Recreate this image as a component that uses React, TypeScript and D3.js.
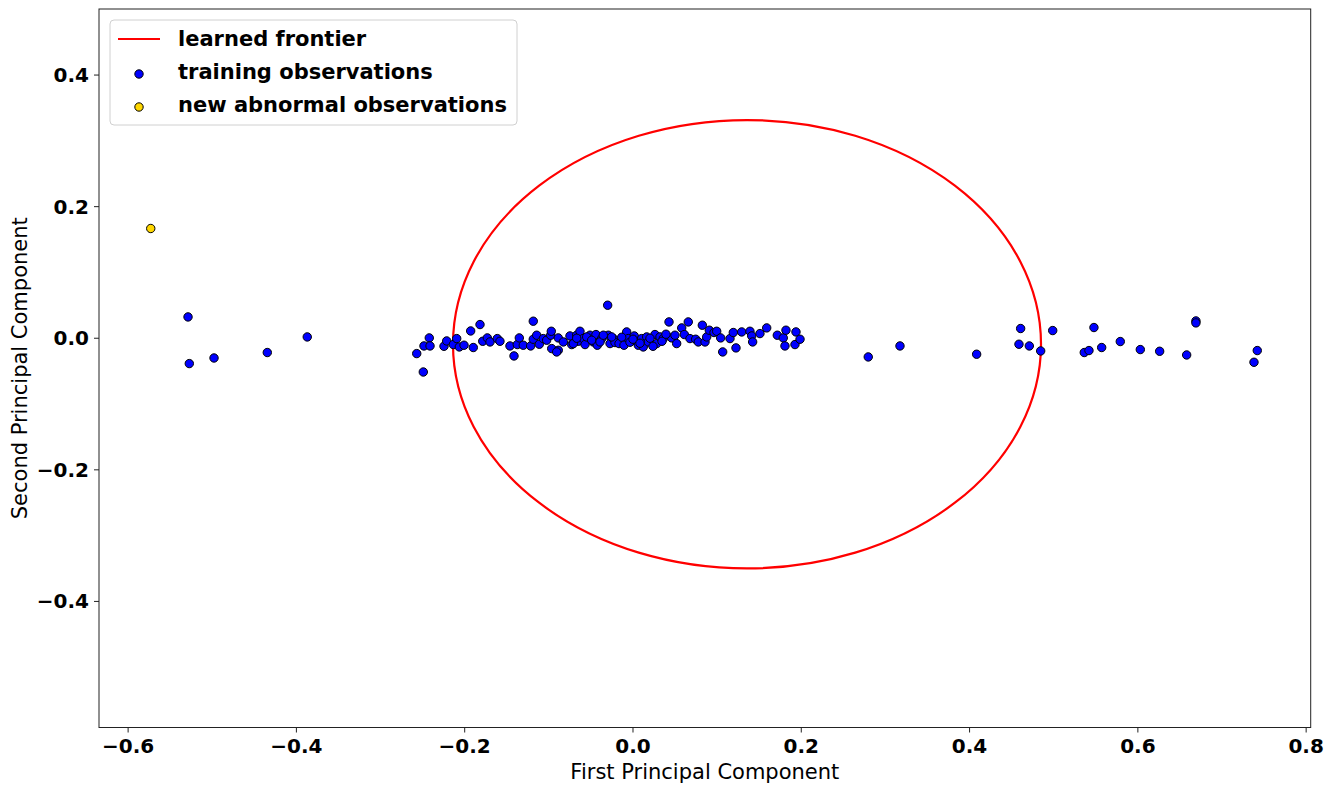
import React from "react";
import * as d3 from "d3";

// ---- data ----
const trainX: number[] = [
  // left outliers
  -0.5288, -0.5273, -0.4979, -0.4346, -0.3871,
  // cluster
  -0.2570, -0.2492, -0.2484, -0.2421, -0.2412, -0.2246, -0.2214, -0.2135, -0.2095, -0.2064,
  -0.2008, -0.1929, -0.1898, -0.1818, -0.1786, -0.1731, -0.1699, -0.1613, -0.1581, -0.1462,
  -0.1414, -0.1375, -0.1351, -0.1304, -0.1216, -0.1185, -0.1185, -0.1144, -0.1113, -0.1066,
  -0.1026, -0.0978, -0.0971, -0.0966, -0.0888, -0.0888, -0.0907, -0.0828, -0.0749, -0.0728,
  -0.0669, -0.0650, -0.0630, -0.0591, -0.0570, -0.0511, -0.0472, -0.0440, -0.0424, -0.0372,
  -0.0301, -0.0294, -0.0273, -0.0234, -0.0214, -0.0166, -0.0075, -0.0056, 0.0015, 0.0044,
  0.0063, 0.0103, 0.0122, 0.0163, 0.0182, 0.0261, 0.0282, 0.0321, 0.0360, 0.0428,
  0.0460, 0.0499, 0.0519, 0.0579, 0.0610, 0.0657, 0.0677, 0.0745, 0.0776, 0.0824,
  0.0856, 0.0876, 0.0907, 0.0963, 0.0995, 0.1042, 0.1066, 0.1153, 0.1192, 0.1224,
  0.1292, 0.1390, 0.1411, 0.1422, 0.1509, 0.1589, 0.1715, 0.1786, 0.1806, 0.1818,
  0.1925, 0.1937, 0.1985,
  -0.0709, -0.0669, -0.0550, -0.0491, -0.0392, -0.0353, -0.0253, -0.0134, -0.0107, -0.0036,
  0.0000, 0.0083, 0.0202, 0.0238, 0.0345, 0.0392,
  // right outliers
  0.2796, 0.3173, 0.4084, 0.4607, 0.4587, 0.4710, 0.4845, 0.4988, 0.5363, 0.5419,
  0.5478, 0.5570, 0.5791, 0.6029, 0.6259, 0.6580, 0.6690, 0.6690, 0.7419, 0.7380,
];
const trainY: number[] = [
  0.0324, -0.0385, -0.0300, -0.0217, 0.0020,
  -0.0233, -0.0513, -0.0117, 0.0005, -0.0117, -0.0122, -0.0041, -0.0096, -0.0005, -0.0132,
  -0.0106, 0.0111, -0.0141, 0.0208, -0.0046, 0.0005, -0.0056, -0.0005, -0.0046, -0.0117,
  -0.0269, -0.0096, 0.0005, -0.0106, -0.0117, 0.0259, -0.0015, 0.0046, -0.0091, -0.0005,
  -0.0030, 0.0046, 0.0106, -0.0157, 0.0005, -0.0183, -0.0208, -0.0056, 0.0035, -0.0096,
  0.0046, -0.0046, 0.0106, -0.0005, -0.0096, 0.0046, -0.0056, 0.0056, -0.0106, -0.0005,
  0.0502, 0.0046, -0.0081, -0.0005, -0.0065, -0.0081, 0.0096, -0.0005, 0.0035, -0.0056,
  -0.0106, -0.0005, -0.0132, 0.0020, -0.0056, 0.0056, -0.0081, 0.0020, -0.0005, 0.0248,
  0.0005, 0.0046, -0.0081, 0.0157, 0.0056, 0.0248, -0.0005, -0.0015, -0.0056, 0.0198,
  -0.0056, 0.0020, 0.0122, 0.0087, 0.0106, 0.0005, -0.0208, -0.0005, 0.0087, -0.0147,
  0.0096, 0.0106, 0.0035, -0.0056, 0.0071, 0.0157, 0.0046, 0.0005, -0.0117, 0.0122,
  -0.0096, 0.0096, -0.0015,
  -0.0081, 0.0000, 0.0020, -0.0030, -0.0056, 0.0046, 0.0020, 0.0015, -0.0106, -0.0061,
  -0.0015, -0.0076, 0.0000, -0.0122, -0.0046, 0.0061,
  -0.0284, -0.0117, -0.0243, 0.0148, -0.0091, -0.0117, -0.0193, 0.0117, -0.0217, -0.0187,
  0.0163, -0.0141, -0.0050, -0.0172, -0.0198, -0.0254, 0.0263, 0.0233, -0.0187, -0.0365,
];
const abnormalX: number[] = [-0.5731];
const abnormalY: number[] = [0.1668];

// learned frontier (ellipse in data units)
const frontierCenter: number[] = [0.1355, -0.0091];
const frontierRadii: number[] = [0.3494, 0.3407];

const xTicks: number[] = [-0.6, -0.4, -0.2, 0.0, 0.2, 0.4, 0.6, 0.8];
const yTicks: number[] = [-0.4, -0.2, 0.0, 0.2, 0.4];
const legendLabels: string[] = ["learned frontier", "training observations", "new abnormal observations"];
const xDomain: number[] = [-0.6346, 0.8054];
const yDomain: number[] = [-0.5916, 0.5004];

const W = 1338;
const H = 787;
const left = 99, right = 1310.7, top = 9, bottom = 727.5;

export default function App() {
  const x = d3.scaleLinear().domain(xDomain).range([left, right]);
  const y = d3.scaleLinear().domain(yDomain).range([bottom, top]);
  const fmt = d3.format(".1f");
  const font = "'DejaVu Sans', sans-serif";

  const ecx = x(frontierCenter[0]);
  const ecy = y(frontierCenter[1]);
  const erx = x(frontierCenter[0] + frontierRadii[0]) - ecx;
  const ery = ecy - y(frontierCenter[1] + frontierRadii[1]);

  return (
    <svg width={W} height={H} style={{ position: "absolute", left: 0, top: 0, background: "#fff" }} fontFamily={font}>
      <rect x={0} y={0} width={W} height={H} fill="#fff" />
      <defs>
        <clipPath id="plotclip">
          <rect x={left} y={top} width={right - left} height={bottom - top} />
        </clipPath>
      </defs>
      <g clipPath="url(#plotclip)">
        <ellipse cx={ecx} cy={ecy} rx={erx} ry={ery} fill="none" stroke="#ff0000" strokeWidth={2.2} />
        {trainX.map((v, i) => (
          <circle key={"t" + i} cx={x(v)} cy={y(trainY[i])} r={4.2} fill="#0000ff" stroke="#000" strokeWidth={1} />
        ))}
        {abnormalX.map((v, i) => (
          <circle key={"a" + i} cx={x(v)} cy={y(abnormalY[i])} r={4.2} fill="#ffd700" stroke="#000" strokeWidth={1} />
        ))}
      </g>
      {/* frame */}
      <rect x={left} y={top} width={right - left} height={bottom - top} fill="none" stroke="#222" strokeWidth={1} />
      {/* x ticks */}
      {xTicks.map((t) => (
        <g key={"xt" + t}>
          <line x1={x(t)} x2={x(t)} y1={bottom} y2={bottom + 5} stroke="#222" strokeWidth={1} />
          <text x={x(t)} y={bottom + 25} textAnchor="middle" fontSize={20} fontWeight="bold" fill="#000">
            {fmt(t)}
          </text>
        </g>
      ))}
      {/* y ticks */}
      {yTicks.map((t) => (
        <g key={"yt" + t}>
          <line x1={left - 5} x2={left} y1={y(t)} y2={y(t)} stroke="#222" strokeWidth={1} />
          <text x={left - 10} y={y(t)} dy="0.35em" textAnchor="end" fontSize={20} fontWeight="bold" fill="#000">
            {fmt(t)}
          </text>
        </g>
      ))}
      {/* axis labels */}
      <text x={(left + right) / 2} y={779} textAnchor="middle" fontSize={21} fill="#000">
        First Principal Component
      </text>
      <text transform={`translate(27, ${(top + bottom) / 2}) rotate(-90)`} textAnchor="middle" fontSize={21} fill="#000">
        Second Principal Component
      </text>
      {/* legend */}
      <g>
        <rect x={110} y={20} width={407} height={105} rx={4} fill="#fff" fillOpacity={0.85} stroke="#d0d0d0" strokeWidth={1} />
        <line x1={118} x2={160} y1={39} y2={39} stroke="#ff0000" strokeWidth={2} />
        <circle cx={139} cy={74} r={4.2} fill="#0000ff" stroke="#000" strokeWidth={1} />
        <circle cx={139} cy={107} r={4.2} fill="#ffd700" stroke="#000" strokeWidth={1} />
        {legendLabels.map((l, i) => (
          <text key={l} x={178} y={39 + i * 33} dy="0.35em" fontSize={21} fontWeight="bold" fill="#000">
            {l}
          </text>
        ))}
      </g>
    </svg>
  );
}
